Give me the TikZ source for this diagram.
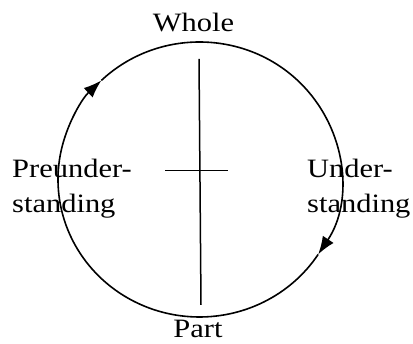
\documentclass[tikz,border=0pt]{standalone}
\usepackage{fontspec}
\setmainfont[FakeStretch=1.15]{Liberation Serif}
\usepackage{tikz}
\usetikzlibrary{arrows.meta, positioning}

\begin{document}
\begin{tikzpicture}[x=1pt, y=1pt,
        lbl/.style={inner sep=0pt, font=\fontsize{26.5}{35}\selectfont, text=black},
        cycline/.style={line width=1.6pt, black},
        cyctip/.style={-{Latex[length=18pt, width=13pt]}},
        crossline/.style={line width=1.5pt, black}
    ]
        \useasboundingbox (0,0) rectangle (413,344);
        \coordinate (ctr) at (199.5,164.5);

        % the circle, clockwise
        \draw [cycline, cyctip] (ctr) ++(226:141.5 and 137.5)
            arc[start angle=226, end angle=133.9, x radius=141.5, y radius=137.5];
        \draw [cycline, cyctip] (ctr) ++(133.9:141.5 and 137.5)
            arc[start angle=133.9, end angle=-33, x radius=141.5, y radius=137.5];
        \draw [cycline] (ctr) ++(-33:141.5 and 137.5)
            arc[start angle=-33, end angle=-134, x radius=141.5, y radius=137.5];

        % cross
        \coordinate (vtop) at (199,285);
        \coordinate (vbot) at (201,39);
        \coordinate (hl) at (165,173.3);
        \coordinate (hr) at (228,173.3);
        \draw [crossline] (vtop) -- (vbot);
        \draw [crossline] (hl) -- (hr);

        \node (whole) [lbl, anchor=base] at (193.5,312) {Whole};
        \node (part) [lbl, anchor=base] at (198,6) {Part};
        \node (pre) [lbl, anchor=west, align=left] at (12,155.5) {Preunder-\\standing};
        \node (under) [lbl, anchor=west, align=left] at (307,155.5) {Under-\\standing};
    \end{tikzpicture}
\end{document}
